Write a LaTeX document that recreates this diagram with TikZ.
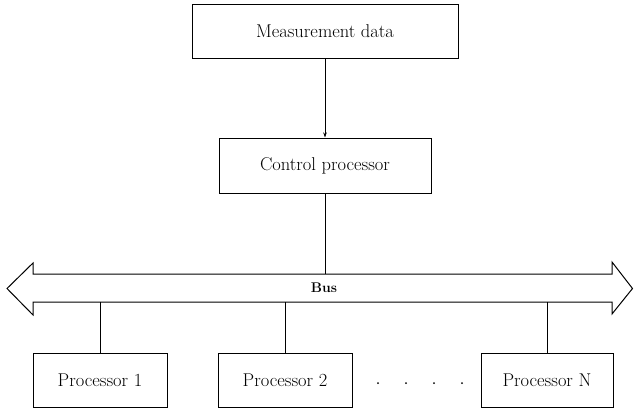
\documentclass[tikz,border=0pt]{standalone}
\usetikzlibrary{arrows.meta}
\begin{document}
\begin{tikzpicture}[x=1pt,y=-1pt,
  box/.style={draw,line width=1pt,inner sep=0pt,font=\fontsize{18.5}{20}\selectfont},
  conn/.style={line width=1pt},
  busshape/.style={draw,line width=1pt,line join=miter}]
\useasboundingbox (0,0) rectangle (634,413);
\node[box,minimum width=266pt,minimum height=54pt] (md) at (325,31) {Measurement data};
\node[box,minimum width=212pt,minimum height=55pt] (cp) at (325,165.5) {Control processor};
\node[box,minimum width=134pt,minimum height=54pt] (p1) at (100,380) {Processor 1};
\node[box,minimum width=134pt,minimum height=54pt] (p2) at (285,380) {Processor 2};
\node[box,minimum width=132pt,minimum height=54pt] (pn) at (547,380) {Processor N};
% bus
\draw[busshape] (7,288.5) -- (33,263) -- (33,274) -- (612,274) -- (612,262) -- (632.5,288.5)
  -- (612,314) -- (612,302) -- (33,302) -- (33,315) -- cycle;
\coordinate (bustop) at (0,274);
\coordinate (busbot) at (0,302);
\node[font=\fontsize{14}{16}\selectfont\bfseries] (bus) at (324,288) {Bus};
\draw[conn,-{Stealth[length=5pt,width=3.5pt]}] (md.south) -- (cp.north);
\draw[conn] (cp.south) -- (cp.south |- bustop);
\draw[conn] (p1.north) -- (p1.north |- busbot);
\draw[conn] (p2.north) -- (p2.north |- busbot);
\draw[conn] (pn.north) -- (pn.north |- busbot);
\foreach \xx in {378,406,434,462} \fill (\xx,383) circle (1pt);
\end{tikzpicture}
\end{document}
